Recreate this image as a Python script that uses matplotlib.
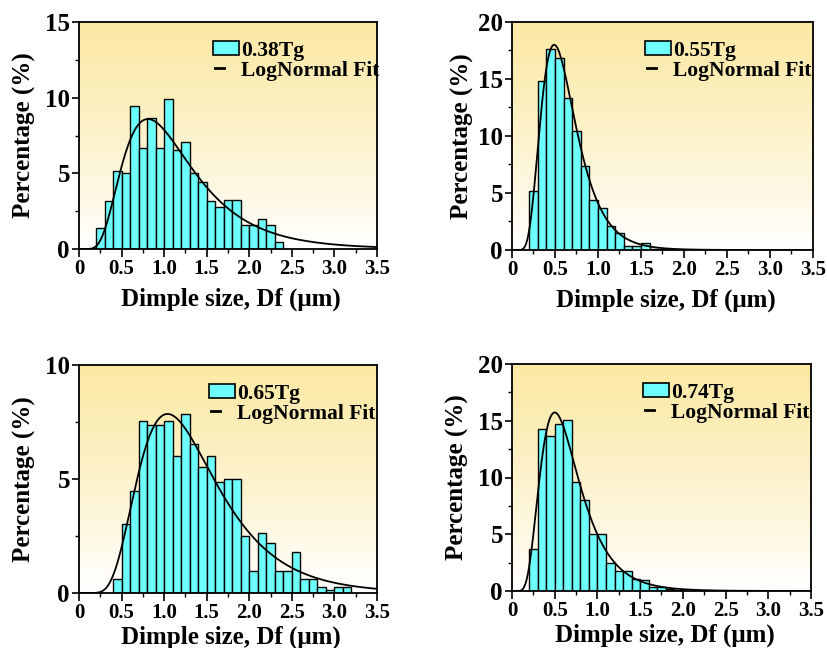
import numpy as np
import matplotlib
matplotlib.use('Agg')
import matplotlib.pyplot as plt
from matplotlib.lines import Line2D
from matplotlib.patches import Patch
from matplotlib.legend_handler import HandlerBase
from matplotlib.ticker import MultipleLocator

plt.rcParams['font.family'] = ['Liberation Serif', 'DejaVu Serif']
plt.rcParams['font.weight'] = 'bold'

BIN_W = 0.1

# ---- histogram data, percent per 0.1 um bin
start_038 = 0.2
pct_038 = [1.38, 3.14, 5.16, 5.01, 9.47, 6.70, 8.68, 6.70, 9.91, 6.55, 7.05,
           5.01, 4.42, 3.14, 2.77, 3.21, 3.21, 1.56, 1.56, 2.0, 1.56, 0.44]

start_055 = 0.2
pct_055 = [5.15, 14.79, 17.6, 16.87, 13.35, 10.42, 7.35, 4.42, 3.66, 2.08,
           1.49, 0.38, 0.32, 0.59, 0.08, 0.05, 0.03]

start_065 = 0.4
pct_065 = [0.62, 3.01, 4.47, 7.55, 7.36, 7.36, 7.55, 6.01, 7.87, 6.52, 5.53,
           6.01, 4.87, 5.01, 5.01, 2.48, 0.98, 2.64, 2.18, 0.98, 0.98, 1.82,
           0.62, 0.62, 0.28, 0.15, 0.26, 0.26]

start_074 = 0.2
pct_074 = [3.68, 14.26, 13.68, 14.7, 15.06, 9.62, 8.0, 5.06, 5.06, 2.5, 1.76,
           1.76, 1.03, 0.94, 0.35, 0.35, 0.15, 0.08]

# ---- LogNormal fit parameters (A, xc, w)
fit_038 = (10.0, 1.045, 0.505)
fit_055 = (10.0, 0.582, 0.415)
fit_065 = (10.0, 1.265, 0.443)
fit_074 = (10.0, 0.616, 0.457)

labels = ['0.38Tg', '0.55Tg', '0.65Tg', '0.74Tg']
ymaxes = [15, 20, 10, 20]

BAR_COLOR = '#6EFDFD'
TOP_COLOR = np.array([251, 233, 165]) / 255.0


def lognormal(x, A, xc, w):
    return A / (np.sqrt(2 * np.pi) * w * x) * np.exp(-np.log(x / xc) ** 2 / (2 * w ** 2))


class ShortLine(HandlerBase):
    # origin style legend: short dash at the left of the handle box
    def create_artists(self, legend, orig_handle, xdescent, ydescent,
                       width, height, fontsize, trans):
        y = height / 2.0 - ydescent
        ln = Line2D([-xdescent + 0.08 * width, -xdescent + 0.42 * width], [y, y],
                    color='black', lw=2.0)
        ln.set_transform(trans)
        return [ln]


def panel(ax, start, pct, fit, label, ymax, ylab_x, xlab_y, leg_x):
    # gradient background
    grad = np.linspace(0, 1, 256)
    img = np.ones((256, 1, 3))
    for c in range(3):
        img[:, 0, c] = TOP_COLOR[c] + (1 - TOP_COLOR[c]) * grad ** 1.2
    ax.imshow(img, extent=[0, 1, 0, 1], transform=ax.transAxes, aspect='auto',
              origin='upper', zorder=0)

    lefts = start + BIN_W * np.arange(len(pct))
    ax.bar(lefts, pct, width=BIN_W, align='edge', color=BAR_COLOR,
           edgecolor='black', linewidth=1.0, zorder=2)

    xs = np.linspace(0.01, 3.5, 600)
    ax.plot(xs, lognormal(xs, *fit), color='black', lw=1.3, zorder=3)

    ax.set_xlim(0, 3.5)
    ax.set_ylim(0, ymax)
    ax.xaxis.set_minor_locator(MultipleLocator(0.25))
    ax.yaxis.set_major_locator(MultipleLocator(5))
    ax.yaxis.set_minor_locator(MultipleLocator(2.5))
    ax.set_xticks(np.arange(0, 3.51, 0.5))
    ax.set_xticklabels(['0', '0.5', '1.0', '1.5', '2.0', '2.5', '3.0', '3.5'])
    ax.tick_params(axis='x', which='major', length=6, width=1.2, labelsize=15, pad=1.5)
    ax.tick_params(axis='y', which='major', length=5, width=1.2, labelsize=18, pad=1.5)
    ax.tick_params(which='minor', length=3, width=1.0)
    ax.tick_params(top=False, right=False, which='both', direction='out')
    for s in ax.spines.values():
        s.set_linewidth(1.3)

    ax.set_xlabel('Dimple size, Df (μm)', fontsize=18, fontweight='bold')
    ax.set_ylabel('Percentage (%)', fontsize=18, fontweight='bold')
    ax.yaxis.set_label_coords(ylab_x, 0.5)
    ax.xaxis.set_label_coords(0.51, xlab_y)

    handles = [Patch(facecolor=BAR_COLOR, edgecolor='black', linewidth=1.2),
               Line2D([], [], color='black')]
    ax.legend(handles, [label, 'LogNormal Fit'], loc='upper right',
              bbox_to_anchor=(leg_x, 0.965), frameon=False, fontsize=15.5,
              borderpad=0, handlelength=1.2, handleheight=0.6,
              handletextpad=0.1, labelspacing=0.0,
              handler_map={Line2D: ShortLine()})


fig = plt.figure(figsize=(8.28, 6.48), dpi=100)
ax1 = fig.add_axes([79 / 828, 1 - 249 / 648, 298 / 828, 227 / 648])
ax2 = fig.add_axes([512 / 828, 1 - 250 / 648, 301 / 828, 228 / 648])
ax3 = fig.add_axes([79 / 828, 1 - 593 / 648, 298 / 828, 228 / 648])
ax4 = fig.add_axes([512 / 828, 1 - 591 / 648, 299 / 828, 227 / 648])

panel(ax1, start_038, pct_038, fit_038, labels[0], ymaxes[0], -0.145, -0.17, 1.045)
panel(ax2, start_055, pct_055, fit_055, labels[1], ymaxes[1], -0.127, -0.17, 1.03)
panel(ax3, start_065, pct_065, fit_065, labels[2], ymaxes[2], -0.145, -0.145, 1.03)
panel(ax4, start_074, pct_074, fit_074, labels[3], ymaxes[3], -0.145, -0.145, 1.03)

fig.savefig('out.png', dpi=100)
